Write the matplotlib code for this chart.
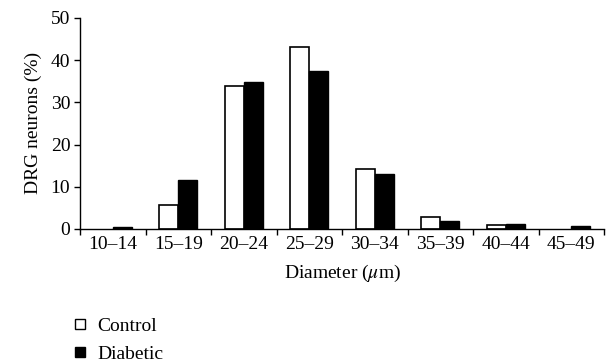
import numpy as np
import matplotlib
matplotlib.use("Agg")
import matplotlib.pyplot as plt
from matplotlib.lines import Line2D

plt.rcParams['font.family'] = ['Liberation Serif', 'DejaVu Serif']
plt.rcParams['mathtext.fontset'] = 'stix'

categories = ["10–14", "15–19", "20–24", "25–29", "30–34", "35–39", "40–44", "45–49"]
control = [0.0, 5.7, 33.8, 43.0, 14.1, 2.8, 0.9, 0.0]
diabetic = [0.4, 11.6, 34.8, 37.3, 12.9, 2.0, 1.1, 0.7]

fig = plt.figure(figsize=(6.06, 3.64), dpi=100)
ax = fig.add_axes([0.132, 0.371, 0.865, 0.58])

x = np.arange(len(categories))
w = 0.29
# no outline for empty bins
lw_c = [1.2 if v > 0 else 0 for v in control]
ax.bar(x - w / 2, control, w, color='white', edgecolor='black', linewidth=lw_c)
ax.bar(x + w / 2, diabetic, w, color='black', edgecolor='black', linewidth=1.0)

fs = 14
ax.set_xlim(-0.5, len(categories) - 0.5)
ax.set_ylim(0, 50)
ax.set_yticks([0, 10, 20, 30, 40, 50])
ax.set_xticks(np.arange(len(categories) + 1) - 0.5)
ax.set_xticklabels([])
ax.set_xticks(x, minor=True)
ax.set_xticklabels(categories, minor=True)
ax.tick_params(axis='x', which='minor', length=0, pad=5, labelsize=fs)
ax.tick_params(axis='x', which='major', direction='out', length=4, width=1)
ax.tick_params(axis='y', direction='out', length=4, width=1, labelsize=fs, pad=3)

for s in ['top', 'right']:
    ax.spines[s].set_visible(False)
for s in ['left', 'bottom']:
    ax.spines[s].set_linewidth(1)

ax.set_ylabel("DRG neurons (%)", fontsize=fs, labelpad=6)
ax.set_xlabel(r"Diameter ($\mu$m)", fontsize=fs, labelpad=7)

handles = [
    Line2D([], [], marker='s', linestyle='none', markerfacecolor='white',
           markeredgecolor='black', markersize=7),
    Line2D([], [], marker='s', linestyle='none', markerfacecolor='black',
           markeredgecolor='black', markersize=7),
]
fig.legend(handles, ["Control", "Diabetic"], loc='lower left',
           bbox_to_anchor=(0.09, -0.045), frameon=False, fontsize=fs,
           handletextpad=0.5, labelspacing=0.55, handlelength=0.8)

fig.savefig("out.png", dpi=100)
